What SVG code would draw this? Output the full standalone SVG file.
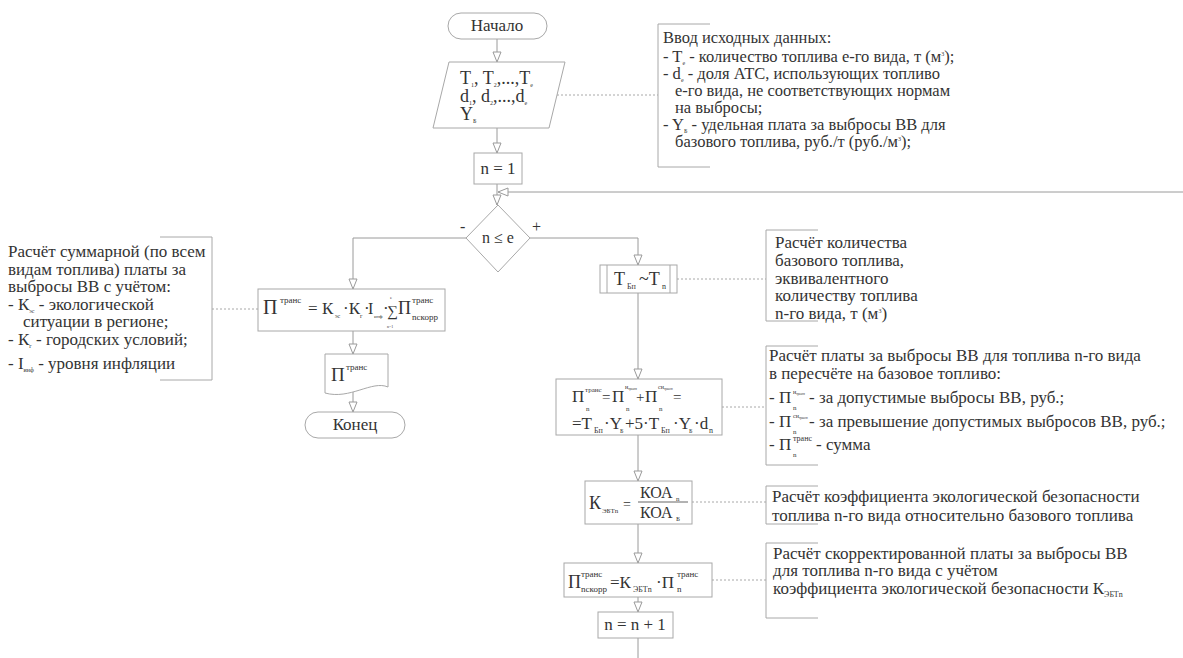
<svg xmlns="http://www.w3.org/2000/svg" width="1183" height="658" viewBox="0 0 1183 658">
<defs>
<style>
.bg{fill:#fff}
.box{fill:#fff;stroke:#a8a8a8;stroke-width:1}
.ln{fill:none;stroke:#9a9a9a;stroke-width:1}
.dt{fill:none;stroke:#a8a8a8;stroke-width:1;stroke-dasharray:2 2}
.br{fill:none;stroke:#a8a8a8;stroke-width:1}
text{font-family:"Liberation Serif","Times New Roman",serif;fill:#333}
.a{font-size:17px}
.a16{font-size:16.5px}
.a15{font-size:16px}
.m{font-size:18px}
.s{font-size:8px}
.xs{font-size:6px}
</style>
<marker id="ar" viewBox="0 0 12 10" markerWidth="12" markerHeight="10" refX="11" refY="5" orient="auto" markerUnits="userSpaceOnUse">
<path d="M1,1 L11,5 L1,9 Z" fill="#fff" stroke="#9a9a9a" stroke-width="1"/>
</marker>
</defs>
<rect class="bg" x="0" y="0" width="1183" height="658"/>

<g id="connectors">
<line class="ln" x1="497" y1="39" x2="497" y2="62" marker-end="url(#ar)"/>
<line class="ln" x1="497" y1="128" x2="497" y2="153" marker-end="url(#ar)"/>
<line class="ln" x1="497" y1="184" x2="497" y2="205" marker-end="url(#ar)"/>
<line class="ln" x1="1183" y1="192" x2="498" y2="192" marker-end="url(#ar)"/>
<polyline class="ln" points="466,238 353,238 353,289" marker-end="url(#ar)"/>
<line class="ln" x1="353" y1="331" x2="353" y2="354" marker-end="url(#ar)"/>
<line class="ln" x1="353" y1="392" x2="353" y2="412" marker-end="url(#ar)"/>
<polyline class="ln" points="530,238 638,238 638,265" marker-end="url(#ar)"/>
<line class="ln" x1="638" y1="293" x2="638" y2="379" marker-end="url(#ar)"/>
<line class="ln" x1="638" y1="435" x2="638" y2="481" marker-end="url(#ar)"/>
<line class="ln" x1="638" y1="524" x2="638" y2="563" marker-end="url(#ar)"/>
<line class="ln" x1="638" y1="597" x2="638" y2="612" marker-end="url(#ar)"/>
<line class="ln" x1="638" y1="638" x2="638" y2="658"/>
<line class="dt" x1="557" y1="95" x2="658" y2="95"/>
<line class="dt" x1="212" y1="309" x2="258" y2="309"/>
<line class="dt" x1="677" y1="279" x2="766" y2="279"/>
<line class="dt" x1="722" y1="407" x2="766" y2="407"/>
<line class="dt" x1="692" y1="502" x2="766" y2="502"/>
<line class="dt" x1="712" y1="580" x2="766" y2="580"/>
</g>

<g id="start">
<rect class="box" x="448" y="13" width="99" height="26" rx="13"/>
<text class="a" x="497" y="31" text-anchor="middle">Начало</text>
</g>

<g id="input">
<polygon class="box" points="449,62 565,62 549,128 433,128"/>
<text class="m" x="460" y="84">T<tspan class="xs" dy="3">1</tspan><tspan dy="-3">, T</tspan><tspan class="xs" dy="3">2</tspan><tspan dy="-3">,...,T</tspan><tspan class="xs" dy="3">e</tspan></text>
<text class="m" x="460" y="102">d<tspan class="xs" dy="3">1</tspan><tspan dy="-3">, d</tspan><tspan class="xs" dy="3">2</tspan><tspan dy="-3">,...,d</tspan><tspan class="xs" dy="3">e</tspan></text>
<text class="m" x="460" y="120">Y<tspan class="xs" dy="3">Б</tspan></text>
</g>

<g id="note-input">
<polyline class="br" points="710,24 658,24 658,167 710,167"/>
<text class="a16" x="663" y="43">Ввод исходных данных:</text>
<text class="a16" x="663" y="62">- T<tspan class="xs" dy="3">e</tspan><tspan dy="-3"> - количество топлива е-го вида, т (м</tspan><tspan class="xs" dy="-6">3</tspan><tspan dy="6">);</tspan></text>
<text class="a16" x="663" y="79">- d<tspan class="xs" dy="3">e</tspan><tspan dy="-3"> - доля АТС, использующих топливо</tspan></text>
<text class="a16" x="675" y="96">е-го вида, не соответствующих нормам</text>
<text class="a16" x="675" y="113">на выбросы;</text>
<text class="a16" x="663" y="130">- Y<tspan class="xs" dy="3">Б</tspan><tspan dy="-3"> - удельная плата за выбросы ВВ для</tspan></text>
<text class="a16" x="675" y="147">базового топлива, руб./т (руб./м<tspan class="xs" dy="-6">3</tspan><tspan dy="6">);</tspan></text>
</g>

<g id="init">
<rect class="box" x="474" y="153" width="48" height="31"/>
<text class="a" x="498" y="174" text-anchor="middle">n = 1</text>
</g>

<g id="decision">
<polygon class="box" points="498,205 530,238 498,272 466,238"/>
<text class="a15" x="498" y="243" text-anchor="middle">n ≤ e</text>
<text class="a15" x="460" y="232">-</text>
<text class="a15" x="532" y="232">+</text>
</g>

<g id="note-total">
<polyline class="br" points="160,237 212,237 212,380 160,380"/>
<text class="a" x="8" y="257">Расчёт суммарной (по всем</text>
<text class="a" x="8" y="275">видам топлива) платы за</text>
<text class="a" x="8" y="292">выбросы ВВ с учётом:</text>
<text class="a" x="8" y="310">-  К<tspan class="xs" dy="3">эс</tspan><tspan dy="-3"> - экологической</tspan></text>
<text class="a" x="23" y="327">ситуации в регионе;</text>
<text class="a" x="8" y="345">- К<tspan class="xs" dy="3">г</tspan><tspan dy="-3"> - городских условий;</tspan></text>
<text class="a" x="8" y="369">- I<tspan class="xs" dy="3">инф</tspan><tspan dy="-3"> - уровня инфляции</tspan></text>
</g>

<g id="total">
<rect class="box" x="258" y="289" width="187" height="42"/>
<text x="263" y="314" style="font-size:20px">П</text>
<text x="280" y="303" style="font-size:9px">транс</text>
<text x="308" y="314" style="font-size:17px">=</text>
<text x="322" y="314" style="font-size:17px">К</text>
<text x="335" y="318" style="font-size:6px">эс</text>
<text x="343" y="314" style="font-size:17px">·К</text>
<text x="360" y="318" style="font-size:6px">г</text>
<text x="364" y="314" style="font-size:17px">·</text>
<text x="368" y="314" style="font-size:16px">I</text>
<text x="374" y="318" style="font-size:5px">инф</text>
<text x="383" y="314" style="font-size:17px">·</text>
<text x="387" y="316" style="font-size:15px">∑</text>
<text x="390" y="299" style="font-size:5px">e</text>
<text x="387" y="328" style="font-size:4px">n=1</text>
<text x="398" y="314" style="font-size:18px">П</text>
<text x="412" y="303" style="font-size:9px">транс</text>
<text x="412" y="320" style="font-size:9px">nскорр</text>
</g>

<g id="output">
<path class="box" d="M325,354 H388 V387 C372,380 350,400 325,393 Z"/>
<text x="331" y="381" style="font-size:19px">П</text>
<text x="346" y="370" style="font-size:9px">транс</text>
</g>

<g id="end">
<rect class="box" x="305" y="412" width="100" height="26" rx="13"/>
<text class="a" x="355" y="430" text-anchor="middle">Конец</text>
</g>

<g id="equiv">
<rect class="box" x="600" y="265" width="77" height="28"/>
<line class="br" x1="607" y1="265" x2="607" y2="293"/>
<line class="br" x1="670" y1="265" x2="670" y2="293"/>
<text x="614" y="285" style="font-size:18px">T</text>
<text x="627" y="289" style="font-size:8px">Бп</text>
<text x="639" y="285" style="font-size:18px">~T</text>
<text x="662" y="289" style="font-size:8px">n</text>
</g>

<g id="note-equiv">
<polyline class="br" points="818,230 766,230 766,321 818,321"/>
<text class="a" x="775" y="248">Расчёт количества</text>
<text class="a" x="775" y="266">базового топлива,</text>
<text class="a" x="775" y="284">эквивалентного</text>
<text class="a" x="775" y="301">количеству топлива</text>
<text class="a" x="775" y="319">n-го вида, т (м<tspan class="xs" dy="-6">3</tspan><tspan dy="6">)</tspan></text>
</g>

<g id="payment">
<rect class="box" x="556" y="379" width="166" height="56"/>
<text x="572" y="402" style="font-size:17px">П</text>
<text x="585" y="392" style="font-size:7px">транс</text>
<text x="586" y="411" style="font-size:7px">n</text>
<text x="602" y="402" style="font-size:15px">=</text>
<text x="612" y="402" style="font-size:17px">П</text>
<text x="625" y="389" style="font-size:6px">н<tspan style="font-size:3px" dy="1">трансп</tspan></text>
<text x="626" y="411" style="font-size:7px">n</text>
<text x="636" y="402" style="font-size:15px">+</text>
<text x="645" y="402" style="font-size:17px">П</text>
<text x="658" y="389" style="font-size:6px">сн<tspan style="font-size:3px" dy="1">трансп</tspan></text>
<text x="659" y="411" style="font-size:7px">n</text>
<text x="673" y="402" style="font-size:15px">=</text>
<text x="572" y="429" style="font-size:17px">=T</text>
<text x="594" y="433" style="font-size:8px">Бп</text>
<text x="604" y="429" style="font-size:17px">·Y</text>
<text x="620" y="433" style="font-size:6px">Б</text>
<text x="625" y="429" style="font-size:17px">+5·T</text>
<text x="661" y="433" style="font-size:8px">Бп</text>
<text x="673" y="429" style="font-size:17px">·Y</text>
<text x="689" y="433" style="font-size:6px">Б</text>
<text x="694" y="429" style="font-size:17px">·d</text>
<text x="709" y="433" style="font-size:8px">n</text>
</g>

<g id="note-payment">
<polyline class="br" points="818,346 766,346 766,465 818,465"/>
<text class="a" x="769" y="361">Расчёт платы за выбросы ВВ для топлива n-го вида</text>
<text class="a" x="769" y="379">в пересчёте на базовое топливо:</text>
<text class="a" x="769" y="403">- П</text>
<text x="793" y="394" style="font-size:6px">н<tspan style="font-size:3px" dy="1">трансп</tspan></text>
<text x="793" y="410" style="font-size:7px">n</text>
<text class="a" x="809" y="403">- за допустимые выбросы ВВ, руб.;</text>
<text class="a" x="769" y="427">- П</text>
<text x="793" y="418" style="font-size:6px">сн<tspan style="font-size:3px" dy="1">трансп</tspan></text>
<text x="793" y="434" style="font-size:7px">n</text>
<text class="a" x="809" y="427">- за превышение допустимых выбросов ВВ, руб.;</text>
<text class="a" x="769" y="450">- П</text>
<text x="793" y="441" style="font-size:8px">транс</text>
<text x="793" y="457" style="font-size:7px">n</text>
<text class="a" x="816" y="450">- сумма</text>
</g>

<g id="coef">
<rect class="box" x="585" y="481" width="107" height="43"/>
<text x="589" y="509" style="font-size:18px">К</text>
<text x="602" y="513" style="font-size:7px">ЭБТn</text>
<text x="623" y="509" style="font-size:14px">=</text>
<line class="ln" x1="638" y1="502" x2="688" y2="502" style="stroke:#666"/>
<text x="640" y="498" style="font-size:16px">КОА</text>
<text x="676" y="501" style="font-size:7px">n</text>
<text x="640" y="518" style="font-size:16px">КОА</text>
<text x="676" y="521" style="font-size:7px">Б</text>
</g>

<g id="note-coef">
<polyline class="br" points="818,486 766,486 766,524 818,524"/>
<text class="a" x="772" y="502">Расчёт коэффициента экологической безопасности</text>
<text class="a" x="772" y="521">топлива n-го вида относительно базового топлива</text>
</g>

<g id="corr">
<rect class="box" x="564" y="563" width="148" height="34"/>
<text x="568" y="588" style="font-size:18px">П</text>
<text x="581" y="577" style="font-size:9px">транс</text>
<text x="581" y="592" style="font-size:9px">nскорр</text>
<text x="610" y="588" style="font-size:17px">=К</text>
<text x="633" y="592" style="font-size:8px">ЭБТn</text>
<text x="656" y="588" style="font-size:17px">·П</text>
<text x="677" y="577" style="font-size:9px">транс</text>
<text x="677" y="592" style="font-size:9px">n</text>
</g>

<g id="note-corr">
<polyline class="br" points="818,543 766,543 766,618 818,618"/>
<text class="a" x="773" y="559">Расчёт скорректированной платы за выбросы ВВ</text>
<text class="a" x="773" y="576">для топлива n-го вида с учётом</text>
<text class="a" x="773" y="594">коэффициента экологической безопасности К<tspan class="s" dy="3">ЭБТn</tspan></text>
</g>

<g id="incr">
<rect class="box" x="598" y="612" width="75" height="26"/>
<text class="a" x="635" y="630" text-anchor="middle">n = n + 1</text>
</g>
</svg>
